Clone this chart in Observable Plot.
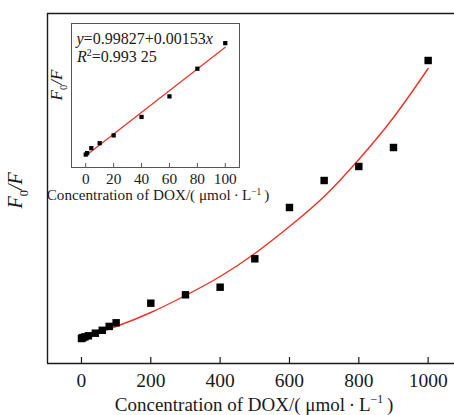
<!DOCTYPE html>
<html>
<head>
<meta charset="utf-8">
<script src="https://cdn.jsdelivr.net/npm/d3@7"></script>
<script src="https://cdn.jsdelivr.net/npm/@observablehq/plot@0.6"></script>
<style>
  html, body { margin: 0; padding: 0; background: #fff; overflow: hidden; }
  #chart { position: relative; width: 454px; height: 415px; }
  #chart svg { position: absolute; left: 0; top: 0; overflow: visible; }
  #chart svg, #chart svg text { font-family: "Liberation Serif", "Times New Roman", serif; }
</style>
</head>
<body>
<div id="chart"></div>
<script>
// DOX concentration (µmol/L) and measured fluorescence quenching ratio F0/F
const concentration = [0, 1, 4, 10, 20, 40, 60, 80, 100, 200, 300, 400, 500, 600, 700, 800, 900, 1000];
const ratio = [1.000, 1.002, 1.009, 1.016, 1.027, 1.053, 1.082, 1.121, 1.157, 1.353, 1.437, 1.513, 1.797, 2.310, 2.580, 2.720, 2.910, 3.780];

// Fitted curve over the whole range, sampled every 100 µmol/L
const fitConcentration = [0, 100, 200, 300, 400, 500, 600, 700, 800, 900, 1000];
const fitRatio = [1.00, 1.12, 1.26, 1.43, 1.62, 1.85, 2.12, 2.42, 2.79, 3.21, 3.70];

// Linear fit of the low-concentration range (inset)
const intercept = 0.99827;
const slope = 0.00153;
const rSquared = "0.993 25";
const insetLimit = 100;
const insetEnds = [0, 100];

const mainTicks = [0, 200, 400, 600, 800, 1000];
const insetTicks = [0, 20, 40, 60, 80, 100];

// Rich-text pieces: [text, kind]
const xTitleParts = [["Concentration of DOX/( \u03bcmol\u2009\u00b7\u2009L", ""], ["\u22121", "sup"], ["\u2009)", ""]];
const yTitleParts = [["F", "i"], ["0", "sub"], ["/", "i"], ["F", "i"]];
const eqParts = [["y", "i"], ["=" + intercept + "+" + slope.toFixed(5), ""], ["x", "i"]];
const r2Parts = [["R", "i"], ["2", "sup"], ["=" + rSquared, ""]];

const plain = parts => parts.map(p => p[0]).join("");
const xTitle = plain(xTitleParts);
const yTitle = plain(yTitleParts);
const eqText = plain(eqParts);
const r2Text = plain(r2Parts);

const points = concentration.map((c, i) => ({c, r: ratio[i]}));
const insetPoints = points.filter(d => d.c <= insetLimit);
const fit = fitConcentration.map((c, i) => ({c, r: fitRatio[i]}));

const serif = "Liberation Serif";
const red = "#ee3124";
const ink = "#1a1a1a";

const main = Plot.plot({
  width: 454,
  height: 415,
  marginTop: 13,
  marginBottom: 52,
  marginLeft: 47,
  marginRight: 0,
  style: {fontFamily: serif, fontSize: "19px", background: "transparent", color: ink},
  x: {domain: [-98, 1076]},
  y: {domain: [0.75, 4.25], axis: null},
  marks: [
    Plot.ruleX([-98], {stroke: ink, strokeWidth: 1.4}),
    Plot.ruleY([0.75, 4.25], {stroke: ink, strokeWidth: 1.4}),
    Plot.tickX(mainTicks, {x: d => d, insetTop: 344, stroke: ink, strokeWidth: 1.2}),
    Plot.axisX({ticks: mainTicks, tickSize: 0, tickPadding: 9.5, tickFormat: d => String(d), label: null, fontSize: 19.5, fontFamily: serif, fill: ink}),
    Plot.line(fit, {x: "c", y: "r", stroke: red, strokeWidth: 1.4, curve: "natural"}),
    Plot.dot(points, {x: "c", y: "r", symbol: "square", r: 4.2, fill: "#000", stroke: null}),
    Plot.text([xTitle], {text: d => d, frameAnchor: "bottom", dx: 3, dy: 41, lineAnchor: "middle", fontSize: 19, fontFamily: serif, fill: ink}),
    Plot.text([yTitle], {text: d => d, frameAnchor: "left", dx: -32, dy: 20, rotate: -90, lineAnchor: "middle", fontSize: 20, fontFamily: serif, fill: ink})
  ]
});

const inset = Plot.plot({
  width: 280,
  height: 210,
  marginTop: 23,
  marginBottom: 43,
  marginLeft: 71,
  marginRight: 41,
  style: {fontFamily: serif, fontSize: "15px", background: "transparent", color: ink},
  x: {domain: [-10.2, 110.2]},
  y: {domain: [0.98175, 1.18471], axis: null},
  marks: [
    Plot.frame({stroke: "#555", strokeWidth: 1}),
    Plot.tickX(insetTicks, {x: d => d, insetTop: 140, stroke: "#555"}),
    Plot.axisX({ticks: insetTicks, tickSize: 0, tickPadding: 5.5, tickFormat: d => String(d), label: null, fontSize: 15.3, fontFamily: serif, fill: ink}),
    Plot.line(insetEnds, {x: d => d, y: d => intercept + slope * d, stroke: red, strokeWidth: 1.2}),
    Plot.dot(insetPoints, {x: "c", y: "r", symbol: "square", r: 2.4, fill: "#000", stroke: null}),
    Plot.text([eqText], {text: d => d, frameAnchor: "top-left", dx: 5, dy: 20, textAnchor: "start", lineAnchor: "bottom", fontSize: 16, fontFamily: serif, fill: ink}),
    Plot.text([r2Text], {text: d => d, frameAnchor: "top-left", dx: 5.5, dy: 38.7, textAnchor: "start", lineAnchor: "bottom", fontSize: 16, fontFamily: serif, fill: ink}),
    Plot.text([xTitle], {text: d => d, frameAnchor: "bottom", dx: 2.5, dy: 28, lineAnchor: "middle", fontSize: 15.2, fontFamily: serif, fill: ink}),
    Plot.text([yTitle], {text: d => d, frameAnchor: "left", dx: -15, dy: 5, rotate: -90, lineAnchor: "middle", fontSize: 17, fontFamily: serif, fill: ink})
  ]
});

// Replace plain label strings with styled tspans (italics, sub/superscripts)
function styleText(svg, parts) {
  const target = plain(parts);
  d3.select(svg).selectAll("text").each(function () {
    if (this.textContent !== target) return;
    const size = parseFloat(getComputedStyle(this).fontSize) || 16;
    const el = d3.select(this);
    el.text(null);
    let shift = 0;
    for (const [str, kind] of parts) {
      const t = el.append("tspan").text(str);
      let want = 0;
      if (kind === "sub") want = size * 0.28;
      if (kind === "sup") want = -size * 0.38;
      if (want !== shift) t.attr("dy", want - shift);
      shift = want;
      if (kind === "sub" || kind === "sup") t.attr("font-size", size * 0.62);
      if (kind === "i") t.attr("font-style", "italic");
    }
  });
}

const root = document.getElementById("chart");
root.append(main, inset);
for (const svg of [main, inset]) {
  styleText(svg, xTitleParts);
  styleText(svg, yTitleParts);
  styleText(svg, eqParts);
  styleText(svg, r2Parts);
}
</script>
</body>
</html>
